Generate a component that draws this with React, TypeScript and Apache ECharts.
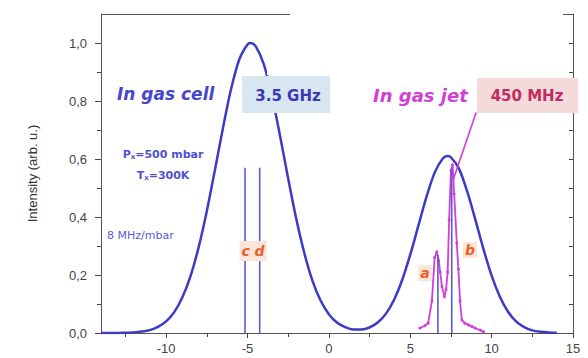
import React, { useEffect, useRef } from "react";
import * as echarts from "echarts";

// Blue curve (in gas cell + jet envelope)
const cellX = [-14, -13.5, -13, -12.5, -12, -11.5, -11, -10.5, -10, -9.5, -9, -8.5, -8, -7.5, -7, -6.5, -6, -5.5, -5, -4.8, -4.5, -4, -3.5, -3, -2.5, -2, -1.5, -1, -0.5, 0, 0.5, 1, 1.5, 2, 2.5, 3, 3.5, 4, 4.5, 5, 5.5, 6, 6.5, 7, 7.3, 7.5, 8, 8.5, 9, 9.5, 10, 10.5, 11, 11.5, 12, 12.5, 13, 13.5, 14];
const cellY = [0, 0, 0, 0.001, 0.002, 0.005, 0.01, 0.021, 0.04, 0.072, 0.123, 0.196, 0.296, 0.42, 0.562, 0.709, 0.843, 0.944, 0.995, 1.0, 0.989, 0.927, 0.818, 0.68, 0.533, 0.393, 0.274, 0.179, 0.111, 0.065, 0.036, 0.02, 0.012, 0.012, 0.019, 0.036, 0.066, 0.114, 0.182, 0.27, 0.37, 0.47, 0.553, 0.602, 0.61, 0.606, 0.566, 0.488, 0.391, 0.289, 0.198, 0.126, 0.074, 0.04, 0.02, 0.009, 0.004, 0.002, 0.001];

// Magenta spectrum (in gas jet)
const jetX = [5.6, 5.9, 6.1, 6.33, 6.5, 6.63, 6.75, 6.84, 6.95, 7.1, 7.2, 7.3, 7.39, 7.5, 7.6, 7.7, 7.86, 7.96, 8.06, 8.17, 8.35, 8.57, 8.8, 8.98, 9.3, 9.5];
const jetY = [0.017, 0.025, 0.034, 0.11, 0.26, 0.28, 0.25, 0.21, 0.16, 0.125, 0.15, 0.21, 0.39, 0.56, 0.58, 0.48, 0.31, 0.22, 0.11, 0.045, 0.034, 0.028, 0.022, 0.017, 0.01, 0.004];

// Vertical transition lines
const lineNames = ["c", "d", "a", "b"];
const lineX = [-5.15, -4.25, 6.7, 7.55];
const lineH = [0.57, 0.57, 0.27, 0.57];

// Pointer from jet peak to "450 MHz" label
const pointerX = [7.65, 9.05];
const pointerY = [0.53, 0.76];

const xLabels = [-10, -5, 0, 5, 10, 15];
const xMinor = [-12.5, -7.5, -2.5, 2.5, 7.5, 12.5];
const yLabels = [0, 0.2, 0.4, 0.6, 0.8, 1.0];
const yMinor = [0.1, 0.3, 0.5, 0.7, 0.9];
const yAll = [0, 0.1, 0.2, 0.3, 0.4, 0.5, 0.6, 0.7, 0.8, 0.9, 1.0];

const BLUE = "#3b3bc6";
const MAG = "#d03fd6";
const LBLUE = "#5a5ad8";
const ORANGE = "#e8602c";
const FONT = "'DejaVu Sans', sans-serif";

export default function App() {
  const ref = useRef<HTMLDivElement>(null);
  useEffect(() => {
    if (!ref.current) return;
    const chart = echarts.init(ref.current, null, { renderer: "svg" });
    const axisTextStyle = { color: "#444", fontSize: 13, fontFamily: "Liberation Sans, Arial, sans-serif" };
    const tickStyle = { color: "#444", width: 1 };
    const option: any = {
      animation: false,
      grid: { left: 101, right: 15, top: 14, bottom: 25 },
      xAxis: [
        {
          type: "value",
          min: -14,
          max: 15,
          position: "bottom",
          axisLine: { show: true, onZero: false, lineStyle: { color: "#555", width: 1 } },
          axisTick: { show: true, customValues: xLabels, length: 5, lineStyle: tickStyle },
          axisLabel: { show: true, customValues: xLabels, margin: 9, ...axisTextStyle },
          splitLine: { show: false },
        },
        {
          type: "value",
          min: -14,
          max: 15,
          position: "bottom",
          axisLine: { show: false, onZero: false },
          axisTick: { show: true, customValues: xMinor, length: 4, lineStyle: tickStyle },
          axisLabel: { show: false, customValues: xMinor },
          splitLine: { show: false },
        },
      ],
      yAxis: [
        {
          type: "value",
          min: 0,
          max: 1.1,
          position: "left",
          name: "Intensity (arb. u.)",
          nameLocation: "middle",
          nameGap: 62,
          nameTextStyle: { color: "#333", fontSize: 13, fontFamily: "Liberation Sans, Arial, sans-serif" },
          axisLine: { show: true, onZero: false, lineStyle: { color: "#555", width: 1 } },
          axisTick: { show: true, customValues: yLabels, length: 6, lineStyle: tickStyle },
          axisLabel: {
            show: true,
            customValues: yLabels,
            margin: 14,
            formatter: (v: number) => v.toFixed(1).replace(".", ","),
            ...axisTextStyle,
          },
          splitLine: { show: false },
        },
        {
          type: "value",
          min: 0,
          max: 1.1,
          position: "left",
          axisLine: { show: false, onZero: false },
          axisTick: { show: true, customValues: yMinor, length: 4, lineStyle: tickStyle },
          axisLabel: { show: false, customValues: yMinor },
          splitLine: { show: false },
        },
        {
          type: "value",
          min: 0,
          max: 1.1,
          position: "right",
          axisLine: { show: true, onZero: false, lineStyle: { color: "#555", width: 1 } },
          axisTick: { show: true, inside: true, customValues: yAll, length: 4, lineStyle: tickStyle },
          axisLabel: { show: false, customValues: yAll },
          splitLine: { show: false },
        },
      ],
      series: [
        {
          type: "line",
          data: cellX.map((x, i) => [x, cellY[i]]),
          smooth: 0.3,
          showSymbol: false,
          lineStyle: { color: BLUE, width: 2.5 },
          z: 2,
        },
        {
          type: "line",
          data: jetX.map((x, i) => [x, jetY[i]]),
          symbol: "circle",
          symbolSize: 3,
          itemStyle: { color: MAG },
          lineStyle: { color: MAG, width: 1.8 },
          z: 3,
        },
        ...lineX.map((x, i) => ({
          type: "line",
          name: lineNames[i],
          data: [
            [x, 0],
            [x, lineH[i]],
          ],
          showSymbol: false,
          lineStyle: { color: LBLUE, width: 1.6 },
          z: 4,
        })),
        {
          type: "line",
          data: pointerX.map((x, i) => [x, pointerY[i]]),
          showSymbol: false,
          lineStyle: { color: MAG, width: 1.6 },
          z: 4,
        },
      ],
      graphic: [
        { type: "rect", z: 50, shape: { x: 267, y: 16, width: 290, height: 59 }, style: { fill: "#ffffff" } },
        { type: "line", z: 51, shape: { x1: 101, y1: 14.5, x2: 290, y2: 14.5 }, style: { stroke: "#555", lineWidth: 1 } },
        { type: "line", z: 51, shape: { x1: 563, y1: 14.5, x2: 573, y2: 14.5 }, style: { stroke: "#555", lineWidth: 1 } },
        { type: "rect", z: 52, shape: { x: 242, y: 76, width: 88, height: 37 }, style: { fill: "#d7e6f0" } },
        {
          type: "text", z: 53, x: 288, y: 96,
          style: { text: "3.5 GHz", fill: "#3838b8", font: `bold 15px ${FONT}`, align: "center", verticalAlign: "middle" },
        },
        { type: "rect", z: 52, shape: { x: 477, y: 78, width: 101, height: 35 }, style: { fill: "#f5dada" } },
        {
          type: "text", z: 53, x: 527, y: 96,
          style: { text: "450 MHz", fill: "#c02c62", font: `bold 15px ${FONT}`, align: "center", verticalAlign: "middle" },
        },
        {
          type: "text", z: 53, x: 117, y: 94,
          style: { text: "In gas cell", fill: "#4646cc", font: `italic bold 17px ${FONT}`, align: "left", verticalAlign: "middle" },
        },
        {
          type: "text", z: 53, x: 373, y: 95,
          style: { text: "In gas jet", fill: MAG, font: `italic bold 18px ${FONT}`, align: "left", verticalAlign: "middle" },
        },
        {
          type: "text", z: 53, x: 163, y: 154,
          style: {
            text: "{a|P}{s|x}{a|=500 mbar}",
            align: "center", verticalAlign: "middle",
            rich: {
              a: { fill: "#5050d0", font: `bold 11px ${FONT}` },
              s: { fill: "#5050d0", font: `bold 7px ${FONT}`, padding: [6, 0, 0, 0] },
            },
          },
        },
        {
          type: "text", z: 53, x: 163, y: 175,
          style: {
            text: "{a|T}{s|x}{a|=300K}",
            align: "center", verticalAlign: "middle",
            rich: {
              a: { fill: "#5050d0", font: `bold 11px ${FONT}` },
              s: { fill: "#5050d0", font: `bold 7px ${FONT}`, padding: [6, 0, 0, 0] },
            },
          },
        },
        {
          type: "text", z: 53, x: 107, y: 235,
          style: { text: "8 MHz/mbar", fill: "#5a5ad8", font: `11px ${FONT}`, align: "left", verticalAlign: "middle" },
        },
        {
          type: "text", z: 53, x: 253, y: 251,
          style: {
            text: "c d", fill: ORANGE, font: `italic bold 14px ${FONT}`, align: "center", verticalAlign: "middle",
            backgroundColor: "#fde4d8", padding: [3, 2, 3, 2],
          },
        },
        {
          type: "text", z: 53, x: 425, y: 273,
          style: { text: "a", fill: ORANGE, font: `italic bold 14px ${FONT}`, align: "center", verticalAlign: "middle", backgroundColor: "#fde4d8", padding: [1, 2, 1, 2] },
        },
        {
          type: "text", z: 53, x: 470, y: 250,
          style: { text: "b", fill: ORANGE, font: `italic bold 14px ${FONT}`, align: "center", verticalAlign: "middle", backgroundColor: "#fde4d8", padding: [1, 2, 1, 2] },
        },
      ],
    };
    chart.setOption(option);
    return () => chart.dispose();
  }, []);
  return <div ref={ref} style={{ position: "fixed", left: 0, top: 0, width: 588, height: 358, background: "#fff" }} />;
}
